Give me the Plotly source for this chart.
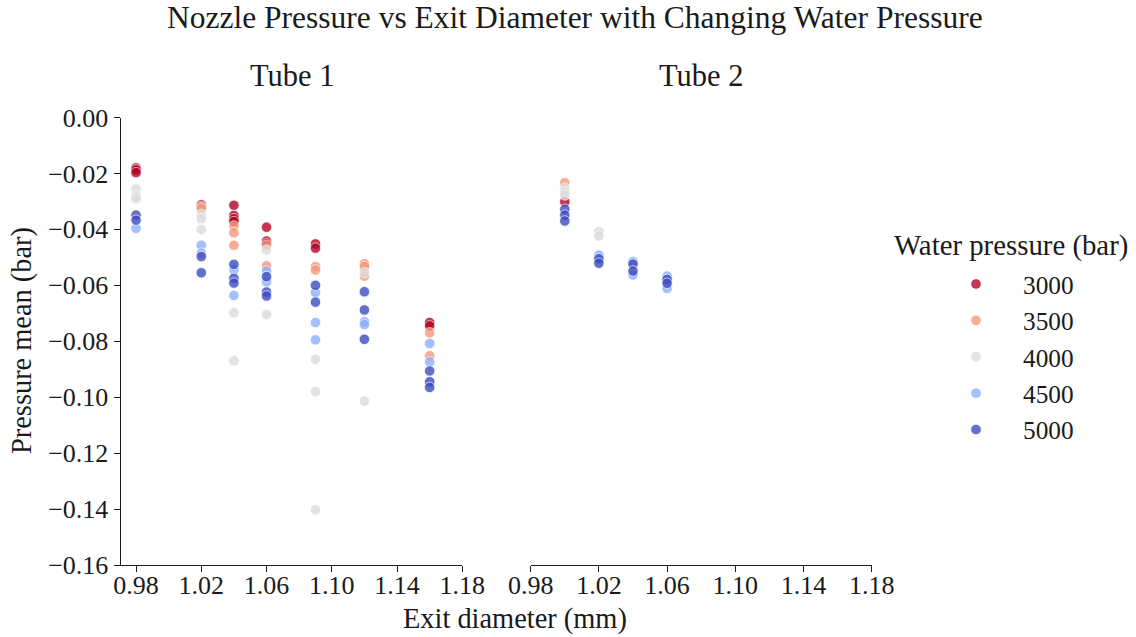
import plotly.graph_objects as go

# ---------------- data ----------------
pressures = [3000, 3500, 4000, 4500, 5000]
colors = ["#b40426", "#f49a7b", "#dddcdc", "#8db0fe", "#3b4cc0"]

x_ticks = [0.98, 1.02, 1.06, 1.10, 1.14, 1.18]
y_ticks = [0.00, -0.02, -0.04, -0.06, -0.08, -0.10, -0.12, -0.14, -0.16]

# Tube 1 (exit diameter mm, water pressure bar, pressure mean bar)
t1_diameter = [
    0.98, 0.98, 0.98, 1.02, 1.04, 1.04, 1.04, 1.04, 1.06, 1.06, 1.06, 1.09, 1.09, 1.16, 1.16,
    1.02, 1.02, 1.04, 1.04, 1.04, 1.06, 1.06, 1.09, 1.09, 1.12, 1.12, 1.12, 1.16, 1.16,
    0.98, 0.98, 0.98, 1.02, 1.02, 1.02, 1.04, 1.04, 1.06, 1.06, 1.09, 1.09, 1.09, 1.12, 1.12,
    0.98, 1.02, 1.02, 1.04, 1.04, 1.06, 1.06, 1.09, 1.09, 1.09, 1.12, 1.12, 1.16, 1.16,
    0.98, 0.98, 1.02, 1.02, 1.04, 1.04, 1.04, 1.06, 1.06, 1.06, 1.09, 1.09, 1.12, 1.12, 1.12, 1.16, 1.16, 1.16,
]
t1_water = (
    [3000] * 15 + [3500] * 14 + [4000] * 15 + [4500] * 14 + [5000] * 18
)
t1_pmean = [
    -0.0180, -0.0187, -0.0197, -0.0312, -0.0314, -0.0350, -0.0362, -0.0372, -0.0392, -0.0442, -0.0452, -0.0452, -0.0467, -0.0733, -0.0745,
    -0.0318, -0.0325, -0.0388, -0.0412, -0.0457, -0.0457, -0.0530, -0.0533, -0.0545, -0.0523, -0.0533, -0.0567, -0.0770, -0.0852,
    -0.0255, -0.0279, -0.0290, -0.0346, -0.0362, -0.0400, -0.0698, -0.0870, -0.0474, -0.0704, -0.0864, -0.0980, -0.1403, -0.0555, -0.1014,
    -0.0396, -0.0457, -0.0485, -0.0545, -0.0636, -0.0549, -0.0588, -0.0626, -0.0733, -0.0795, -0.0730, -0.0740, -0.0808, -0.0874,
    -0.0349, -0.0367, -0.0497, -0.0555, -0.0525, -0.0575, -0.0592, -0.0569, -0.0624, -0.0638, -0.0600, -0.0660, -0.0623, -0.0688, -0.0793, -0.0906, -0.0945, -0.0965,
]

# Tube 2
t2_diameter = [
    1.00,
    1.00,
    1.00, 1.00, 1.00, 1.02, 1.02,
    1.02, 1.04, 1.04, 1.06, 1.06,
    1.00, 1.00, 1.00, 1.02, 1.02, 1.04, 1.04, 1.06, 1.06,
]
t2_water = [3000] * 1 + [3500] * 1 + [4000] * 5 + [4500] * 5 + [5000] * 9
t2_pmean = [
    -0.0301,
    -0.0233,
    -0.0253, -0.0265, -0.0277, -0.0408, -0.0424,
    -0.0492, -0.0515, -0.0563, -0.0567, -0.0611,
    -0.0328, -0.0349, -0.0370, -0.0505, -0.0521, -0.0524, -0.0549, -0.0579, -0.0593,
]

# ---------------- figure ----------------
W, H = 1136, 637
FONT = "Liberation Serif"
INK = "#1a1a1a"


def px_x(p):
    return p / W


def px_y(p):
    return 1 - p / H


fig = go.Figure()
for p, c in zip(pressures, colors):
    for tube, (ds, ws, ys) in enumerate(
        [(t1_diameter, t1_water, t1_pmean), (t2_diameter, t2_water, t2_pmean)]
    ):
        xs = [d for d, w in zip(ds, ws) if w == p]
        vs = [v for v, w in zip(ys, ws) if w == p]
        fig.add_trace(
            go.Scatter(
                x=xs,
                y=vs,
                mode="markers",
                name=str(p),
                legendgroup=str(p),
                showlegend=(tube == 0),
                xaxis="x" if tube == 0 else "x2",
                yaxis="y" if tube == 0 else "y2",
                marker=dict(
                    color=c,
                    size=10.5,
                    opacity=0.8,
                    line=dict(color="white", width=0.8),
                ),
                hoverinfo="x+y+name",
            )
        )

y_dom = [px_y(565), px_y(117.5)]
axis_common = dict(
    showgrid=False,
    zeroline=False,
    showline=True,
    automargin=False,
    linecolor=INK,
    linewidth=1.3,
    ticks="outside",
    ticklen=6,
    tickwidth=1.3,
    tickcolor=INK,
    tickfont=dict(family=FONT, size=26, color=INK),
)

fig.update_layout(
    width=W,
    height=H,
    margin=dict(l=0, r=0, t=0, b=0, autoexpand=False),
    paper_bgcolor="white",
    plot_bgcolor="white",
    font=dict(family=FONT, color=INK),
    xaxis=dict(
        domain=[px_x(120.7), px_x(462.3)],
        range=[0.9706, 1.18],
        tickvals=x_ticks,
        tickformat=".2f",
        ticklabelstandoff=-9,
        anchor="y",
        **axis_common,
    ),
    xaxis2=dict(
        domain=[px_x(530.7), px_x(871.7)],
        range=[0.98, 1.18],
        tickvals=x_ticks,
        tickformat=".2f",
        ticklabelstandoff=-9,
        anchor="y2",
        **axis_common,
    ),
    yaxis=dict(
        domain=y_dom,
        range=[-0.16, 0.0],
        tickvals=y_ticks,
        tickformat=".2f",
        anchor="x",
        **axis_common,
    ),
    yaxis2=dict(
        domain=y_dom,
        range=[-0.16, 0.0],
        matches="y",
        anchor="x2",
        automargin=False,
        showgrid=False,
        zeroline=False,
        showline=False,
        showticklabels=False,
        ticks="",
    ),
    legend=dict(
        x=px_x(929),
        y=px_y(261),
        xanchor="left",
        yanchor="top",
        itemwidth=84,
        tracegroupgap=0.5,
        font=dict(family=FONT, size=25.3, color=INK),
        bgcolor="rgba(0,0,0,0)",
    ),
    showlegend=True,
)

annotations = [
    dict(text="Nozzle Pressure vs Exit Diameter with Changing Water Pressure",
         x=px_x(575), y=px_y(18), size=31.5),
    dict(text="Tube 1", x=px_x(291.5), y=px_y(76), size=30.5),
    dict(text="Tube 2", x=px_x(701), y=px_y(76), size=30.5),
    dict(text="Exit diameter (mm)", x=px_x(515), y=px_y(619), size=28.4),
    dict(text="Water pressure (bar)", x=px_x(1011), y=px_y(246), size=28.8),
]
for a in annotations:
    fig.add_annotation(
        text=a["text"], x=a["x"], y=a["y"], xref="paper", yref="paper",
        xanchor="center", yanchor="middle", showarrow=False,
        font=dict(family=FONT, size=a["size"], color=INK),
    )
fig.add_annotation(
    text="Pressure mean (bar)", x=px_x(22), y=px_y(341), xref="paper", yref="paper",
    xanchor="center", yanchor="middle", showarrow=False, textangle=-90,
    font=dict(family=FONT, size=28.4, color=INK),
)

fig.write_html("out.html")
